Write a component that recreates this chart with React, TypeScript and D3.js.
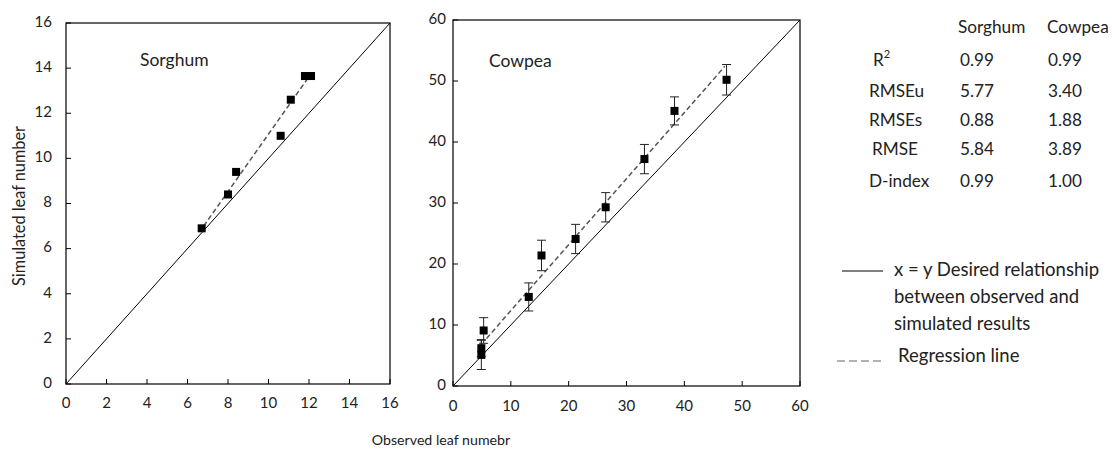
import React from "react";
import * as d3 from "d3";

// observed vs simulated leaf number
const sorghumObserved = [6.7, 8.0, 8.4, 10.6, 11.1, 11.8, 12.1];
const sorghumSimulated = [6.9, 8.4, 9.4, 11.0, 12.6, 13.65, 13.65];
const sorghumFit = [
  [6.8, 7.0],
  [12.1, 13.75],
];

const cowpeaObserved = [4.9, 4.9, 5.3, 13.1, 15.3, 21.2, 26.4, 33.1, 38.3, 47.3];
const cowpeaSimulated = [5.1, 6.2, 9.1, 14.6, 21.4, 24.1, 29.3, 37.2, 45.1, 50.2];
const cowpeaError = [2.4, 1.4, 2.1, 2.3, 2.5, 2.4, 2.4, 2.4, 2.3, 2.5];
const cowpeaFit = [
  [5.8, 7.8],
  [47.0, 52.4],
];

const sorghumTicks = [0, 2, 4, 6, 8, 10, 12, 14, 16];
const cowpeaTicks = [0, 10, 20, 30, 40, 50, 60];

const statNames = ["R", "RMSEu", "RMSEs", "RMSE", "D-index"];
const sorghumStats = ["0.99", "5.77", "0.88", "5.84", "0.99"];
const cowpeaStats = ["0.99", "3.40", "1.88", "3.89", "1.00"];

const FONT = "Lato, 'Open Sans', sans-serif";
const TEXT = "#222";

interface PanelProps {
  left: number;
  right: number;
  top: number;
  bottom: number;
  max: number;
  ticks: number[];
  label: string;
  labelX: number;
  labelY: number;
  obs: number[];
  sim: number[];
  err?: number[];
  fit: number[][];
  yLabelGap: number;
  xLabelY: number;
}

const Panel: React.FC<PanelProps> = (p) => {
  const x = d3.scaleLinear().domain([0, p.max]).range([p.left, p.right]);
  const y = d3.scaleLinear().domain([0, p.max]).range([p.bottom, p.top]);
  const line = d3
    .line<number[]>()
    .x((d) => x(d[0]))
    .y((d) => y(d[1]));
  const tickLen = 5;
  return (
    <g>
      <rect
        x={p.left}
        y={p.top}
        width={p.right - p.left}
        height={p.bottom - p.top}
        fill="none"
        stroke="#000"
        strokeWidth={1.2}
      />
      {p.ticks.map((t) => (
        <g key={"t" + t}>
          <line x1={x(t)} x2={x(t)} y1={p.bottom} y2={p.bottom - tickLen} stroke="#000" />
          <line x1={p.left} x2={p.left + tickLen} y1={y(t)} y2={y(t)} stroke="#000" />
          <text
            x={x(t)}
            y={p.xLabelY}
            textAnchor="middle"
            dominantBaseline="middle"
            fontSize={15}
            fill={TEXT}
          >
            {t}
          </text>
          <text
            x={p.left - p.yLabelGap}
            y={y(t)}
            textAnchor="end"
            dominantBaseline="middle"
            fontSize={15}
            fill={TEXT}
          >
            {t}
          </text>
        </g>
      ))}
      {/* 1:1 line */}
      <path d={line([[0, 0], [p.max, p.max]]) || ""} stroke="#000" strokeWidth={1} fill="none" />
      {/* regression line */}
      <path
        d={line(p.fit) || ""}
        stroke="#555"
        strokeWidth={1.5}
        strokeDasharray="5,3"
        fill="none"
      />
      {p.err &&
        p.obs.map((o, i) => {
          const e = p.err![i];
          const cx = x(o);
          return (
            <g key={"e" + i} stroke="#222" strokeWidth={1}>
              <line x1={cx} x2={cx} y1={y(p.sim[i] - e)} y2={y(p.sim[i] + e)} />
              <line x1={cx - 4.5} x2={cx + 4.5} y1={y(p.sim[i] - e)} y2={y(p.sim[i] - e)} />
              <line x1={cx - 4.5} x2={cx + 4.5} y1={y(p.sim[i] + e)} y2={y(p.sim[i] + e)} />
            </g>
          );
        })}
      {p.obs.map((o, i) => (
        <rect
          key={"m" + i}
          x={x(o) - 4}
          y={y(p.sim[i]) - 4}
          width={8}
          height={8}
          fill="#000"
        />
      ))}
      <text x={p.labelX} y={p.labelY} dominantBaseline="middle" fontSize={17.5} fill={TEXT}>
        {p.label}
      </text>
    </g>
  );
};

const rowY = [62, 93, 122, 151, 183];

export default function App() {
  return (
    <div style={{ position: "fixed", left: 0, top: 0 }}>
      <svg width={1112} height={452} style={{ display: "block", background: "#fff" }} fontFamily={FONT}>
        <Panel
          left={66}
          right={390}
          top={23}
          bottom={384}
          max={16}
          ticks={sorghumTicks}
          label="Sorghum"
          labelX={140}
          labelY={62}
          obs={sorghumObserved}
          sim={sorghumSimulated}
          fit={sorghumFit}
          yLabelGap={14}
          xLabelY={404}
        />
        <Panel
          left={453}
          right={800}
          top={20}
          bottom={386}
          max={60}
          ticks={cowpeaTicks}
          label="Cowpea"
          labelX={489}
          labelY={63}
          obs={cowpeaObserved}
          sim={cowpeaSimulated}
          err={cowpeaError}
          fit={cowpeaFit}
          yLabelGap={7}
          xLabelY={407}
        />
        <text
          transform="translate(21,206) rotate(-90)"
          textAnchor="middle"
          dominantBaseline="middle"
          fontSize={16.3}
          fill={TEXT}
        >
          Simulated leaf number
        </text>
        <text x={441} y={441} textAnchor="middle" dominantBaseline="middle" fontSize={14.2} fill={TEXT}>
          Observed leaf numebr
        </text>

        {/* stats table */}
        <g fontSize={17.2} fill={TEXT}>
          <text x={958} y={29} dominantBaseline="middle">Sorghum</text>
          <text x={1047} y={29} dominantBaseline="middle">Cowpea</text>
          {statNames.map((n, i) => (
            <g key={n}>
              <text x={i === 0 ? 873 : i === 3 ? 872 : 869} y={rowY[i]} dominantBaseline="middle">
                {n}
                {i === 0 && (
                  <tspan fontSize={11} dy={-7}>
                    2
                  </tspan>
                )}
              </text>
              <text x={960} y={rowY[i]} dominantBaseline="middle">{sorghumStats[i]}</text>
              <text x={1048} y={rowY[i]} dominantBaseline="middle">{cowpeaStats[i]}</text>
            </g>
          ))}
        </g>

        {/* legend */}
        <g fontSize={18.5} fill={TEXT}>
          <line x1={842} x2={883} y1={271} y2={271} stroke="#000" strokeWidth={1} />
          <text x={894} y={271} dominantBaseline="middle">x = y Desired relationship</text>
          <text x={894} y={298} dominantBaseline="middle">between observed and</text>
          <text x={894} y={325} dominantBaseline="middle">simulated results</text>
          <line x1={837} x2={885} y1={361} y2={361} stroke="#666" strokeWidth={1.2} strokeDasharray="8,4" />
          <text x={898} y={357} dominantBaseline="middle">Regression line</text>
        </g>
      </svg>
    </div>
  );
}
